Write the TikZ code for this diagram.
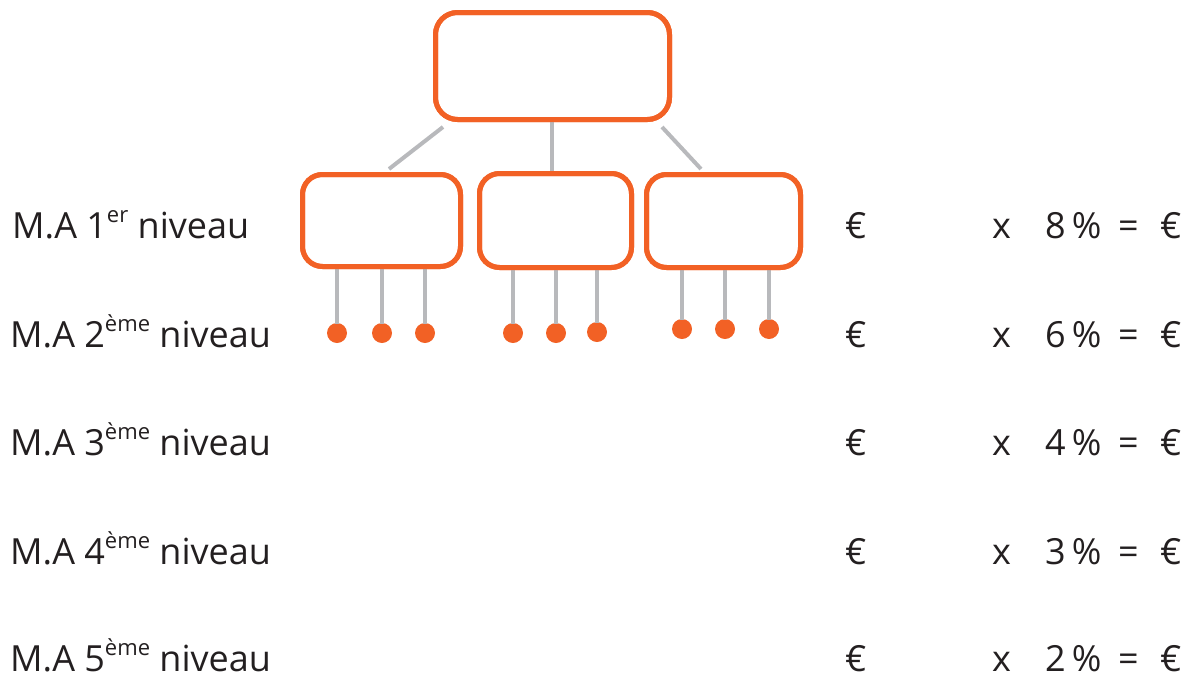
\documentclass[tikz,border=0pt]{standalone}
\usepackage{fontspec}
\setmainfont{Open Sans}
\definecolor{orng}{HTML}{F26125}
\definecolor{gry}{HTML}{B8B9BC}
\definecolor{txt}{HTML}{231F20}
\newcommand{\sups}[1]{\raisebox{0.42em}{\fontsize{22}{24}\selectfont #1}}
\begin{document}
\begin{tikzpicture}[x=1pt,y=-1pt,
  bigbox/.style={draw=orng,line width=5pt,rounded corners=22pt,minimum width=234pt,minimum height=107pt,inner sep=0pt},
  subbox/.style={draw=orng,line width=5pt,rounded corners=20pt,inner sep=0pt},
  leaf/.style={circle,fill=orng,minimum size=20pt,inner sep=0pt},
  link/.style={draw=gry,line width=4pt},
  lbl/.style={anchor=base west,inner sep=0pt,text depth=0pt,text=txt,font=\fontsize{36}{40}\selectfont}]
\useasboundingbox (0,0) rectangle (1195,678);
% boxes
\node[bigbox] (top) at (552.5,66) {};
\node[subbox,minimum width=158pt,minimum height=92pt] (c1) at (381.5,220.5) {};
\node[subbox,minimum width=152pt,minimum height=94pt] (c2) at (555.5,220.5) {};
\node[subbox,minimum width=154pt,minimum height=93pt] (c3) at (723.5,221) {};
% leaves
\node[leaf] (l11) at (337,333) {};
\node[leaf] (l12) at (382,333) {};
\node[leaf] (l13) at (425,333) {};
\node[leaf] (l21) at (513,333) {};
\node[leaf] (l22) at (556,333) {};
\node[leaf] (l23) at (597,332) {};
\node[leaf] (l31) at (682,329) {};
\node[leaf] (l32) at (725,329) {};
\node[leaf] (l33) at (769,329) {};
% connectors
\path[link] ([xshift=10pt,yshift=-5pt]top.south west) -- ([xshift=89pt,yshift=3pt]c1.north west);
\path[link] (top.south -| 552,0) -- (c2.north -| 552,0);
\path[link] ([xshift=-10pt,yshift=-5pt]top.south east) -- ([xshift=57pt,yshift=3pt]c3.north west);
\foreach \c/\a/\b/\d in {c1/l11/l12/l13,c2/l21/l22/l23,c3/l31/l32/l33}{
  \path[link] (\c.south -| \a) -- ([yshift=-1pt]\a.north);
  \path[link] (\c.south -| \b) -- ([yshift=-1pt]\b.north);
  \path[link] (\c.south -| \d) -- ([yshift=-1pt]\d.north);
}
% redraw boxes over connectors
\node[bigbox] at (top) {};
\node[subbox,minimum width=158pt,minimum height=92pt] at (c1) {};
\node[subbox,minimum width=152pt,minimum height=94pt] at (c2) {};
\node[subbox,minimum width=154pt,minimum height=93pt] at (c3) {};
% labels
\node[lbl] (r1) at (12,238) {M.A 1\sups{er} niveau};
\node[lbl] (r2) at (10,347) {M.A 2\sups{ème} niveau};
\node[lbl] (r3) at (10,455) {M.A 3\sups{ème} niveau};
\node[lbl] (r4) at (10,564) {M.A 4\sups{ème} niveau};
\node[lbl] (r5) at (10,671) {M.A 5\sups{ème} niveau};
\foreach \y/\p [count=\i] in {238/8,347/6,455/4,564/3,671/2}{
  \node[lbl] (e\i) at (845,\y) {€};
  \node[lbl] (x\i) at (992,\y) {x};
  \node[lbl] (p\i) at (1045,\y) {\p\,\%};
  \node[lbl] (q\i) at (1118,\y) {=};
  \node[lbl] (f\i) at (1160,\y) {€};
}
\end{tikzpicture}
\end{document}
